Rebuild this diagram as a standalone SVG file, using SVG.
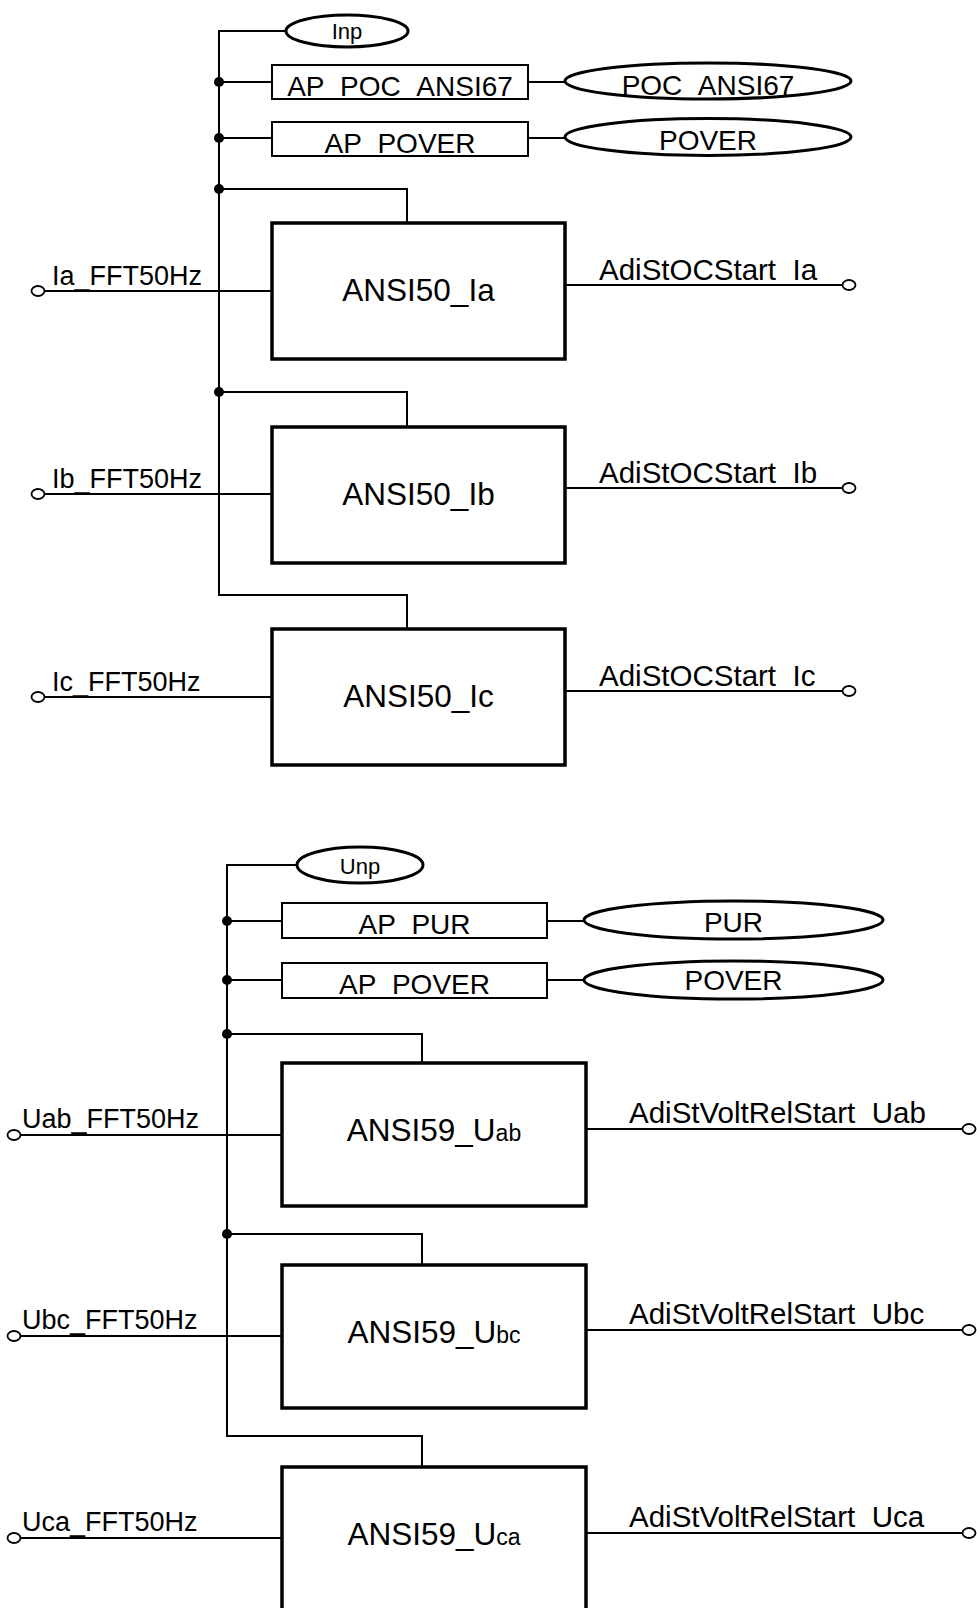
<svg xmlns="http://www.w3.org/2000/svg" width="977" height="1608" viewBox="0 0 977 1608">
<style>
.ln{stroke:#000;stroke-width:2;fill:none}
.box{fill:#fff;stroke:#000;stroke-width:3.5}
.ap{fill:#fff;stroke:#000;stroke-width:2}
.el{fill:#fff;stroke:#000;stroke-width:3}
.pin{fill:#fff;stroke:#000;stroke-width:1.8}
.dot{fill:#000}
text{font-family:"Liberation Sans",Arial,sans-serif;fill:#000}
.big{font-size:31.5px}
.lbl{font-size:27px}
.out{font-size:29.5px}
.mid{font-size:28px}
.sm{font-size:22px}
.c{text-anchor:middle}
</style>
<defs>
<clipPath id="cApPoc" clipPathUnits="userSpaceOnUse"><rect x="273" y="66" width="254" height="32"/></clipPath>
<clipPath id="cApPover1" clipPathUnits="userSpaceOnUse"><rect x="273" y="123" width="254" height="32"/></clipPath>
<clipPath id="cPoc" clipPathUnits="userSpaceOnUse"><rect x="560" y="60" width="300" height="35.5"/></clipPath>
<clipPath id="cPover1" clipPathUnits="userSpaceOnUse"><rect x="560" y="115" width="300" height="36"/></clipPath>
<clipPath id="cApPur" clipPathUnits="userSpaceOnUse"><rect x="283" y="904" width="263" height="32"/></clipPath>
<clipPath id="cApPover2" clipPathUnits="userSpaceOnUse"><rect x="283" y="964" width="263" height="32"/></clipPath>
<clipPath id="cOIa" clipPathUnits="userSpaceOnUse"><rect x="590" y="250" width="280" height="33"/></clipPath>
<clipPath id="cOIb" clipPathUnits="userSpaceOnUse"><rect x="590" y="453" width="280" height="33"/></clipPath>
<clipPath id="cOIc" clipPathUnits="userSpaceOnUse"><rect x="590" y="656" width="280" height="33"/></clipPath>
<clipPath id="cOUab" clipPathUnits="userSpaceOnUse"><rect x="620" y="1093" width="357" height="33"/></clipPath>
<clipPath id="cOUbc" clipPathUnits="userSpaceOnUse"><rect x="620" y="1294" width="357" height="33"/></clipPath>
<clipPath id="cOUca" clipPathUnits="userSpaceOnUse"><rect x="620" y="1497" width="357" height="33"/></clipPath>
</defs>

<g id="connectors">
<path class="ln" d="M286,31 H219 V595 H407 V629"/>
<path class="ln" d="M219,82 H272 M528,82 H565"/>
<path class="ln" d="M219,138 H272 M528,138 H565"/>
<path class="ln" d="M219,189 H407 V223"/>
<path class="ln" d="M219,392 H407 V427"/>
<path class="ln" d="M44,291 H272 M565,285 H843"/>
<path class="ln" d="M44,494 H272 M565,488 H843"/>
<path class="ln" d="M44,697 H272 M565,691 H843"/>
<circle class="dot" cx="219" cy="82" r="5"/>
<circle class="dot" cx="219" cy="138" r="5"/>
<circle class="dot" cx="219" cy="189" r="5"/>
<circle class="dot" cx="219" cy="392" r="5"/>

<path class="ln" d="M297,865 H227 V1436 H422 V1467"/>
<path class="ln" d="M227,921 H282 M547,921 H584"/>
<path class="ln" d="M227,980 H282 M547,980 H584"/>
<path class="ln" d="M227,1034 H422 V1063"/>
<path class="ln" d="M227,1234 H422 V1265"/>
<path class="ln" d="M20,1135 H282 M586,1129 H963"/>
<path class="ln" d="M20,1336 H282 M586,1330 H963"/>
<path class="ln" d="M20,1538 H282 M586,1533 H963"/>
<circle class="dot" cx="227" cy="921" r="5"/>
<circle class="dot" cx="227" cy="980" r="5"/>
<circle class="dot" cx="227" cy="1034" r="5"/>
<circle class="dot" cx="227" cy="1234" r="5"/>
</g>

<g id="Inp">
<ellipse class="el" cx="347" cy="31" rx="61" ry="16"/>
<text class="sm c" x="347" y="39">Inp</text>
</g>
<g id="AP_POC_ANSI67">
<rect class="ap" x="272" y="65" width="256" height="34"/>
<text class="mid c" x="400" y="96" clip-path="url(#cApPoc)">AP_POC_ANSI67</text>
</g>
<g id="POC_ANSI67">
<ellipse class="el" cx="708" cy="81" rx="143" ry="18"/>
<text class="mid c" x="708" y="95" clip-path="url(#cPoc)">POC_ANSI67</text>
</g>
<g id="AP_POVER_1">
<rect class="ap" x="272" y="122" width="256" height="34"/>
<text class="mid c" x="400" y="152.5" clip-path="url(#cApPover1)">AP_POVER</text>
</g>
<g id="POVER_1">
<ellipse class="el" cx="708" cy="137" rx="143" ry="18.5"/>
<text class="mid c" x="708" y="150" clip-path="url(#cPover1)">POVER</text>
</g>

<g id="ANSI50_Ia">
<rect class="box" x="272" y="223" width="293" height="136"/>
<text class="big c" x="418.5" y="301">ANSI50_Ia</text>
<ellipse class="pin" cx="38" cy="291" rx="6.5" ry="5"/>
<text class="lbl" x="52" y="285">Ia_FFT50Hz</text>
<ellipse class="pin" cx="849" cy="285" rx="6.5" ry="5"/>
<text class="out" x="599" y="280" clip-path="url(#cOIa)">AdiStOCStart_Ia</text>
</g>
<g id="ANSI50_Ib">
<rect class="box" x="272" y="427" width="293" height="136"/>
<text class="big c" x="418.5" y="505">ANSI50_Ib</text>
<ellipse class="pin" cx="38" cy="494" rx="6.5" ry="5"/>
<text class="lbl" x="52" y="488">Ib_FFT50Hz</text>
<ellipse class="pin" cx="849" cy="488" rx="6.5" ry="5"/>
<text class="out" x="599" y="483" clip-path="url(#cOIb)">AdiStOCStart_Ib</text>
</g>
<g id="ANSI50_Ic">
<rect class="box" x="272" y="629" width="293" height="136"/>
<text class="big c" x="418.5" y="707">ANSI50_Ic</text>
<ellipse class="pin" cx="38" cy="697" rx="6.5" ry="5"/>
<text class="lbl" x="52" y="691">Ic_FFT50Hz</text>
<ellipse class="pin" cx="849" cy="691" rx="6.5" ry="5"/>
<text class="out" x="599" y="686" clip-path="url(#cOIc)">AdiStOCStart_Ic</text>
</g>

<g id="Unp">
<ellipse class="el" cx="360" cy="865" rx="63" ry="18"/>
<text class="sm c" x="360" y="874">Unp</text>
</g>
<g id="AP_PUR">
<rect class="ap" x="282" y="903" width="265" height="35"/>
<text class="mid c" x="414.5" y="934" clip-path="url(#cApPur)">AP_PUR</text>
</g>
<g id="PUR">
<ellipse class="el" cx="733.5" cy="920" rx="149.5" ry="19"/>
<text class="mid c" x="733.5" y="932">PUR</text>
</g>
<g id="AP_POVER_2">
<rect class="ap" x="282" y="963" width="265" height="35"/>
<text class="mid c" x="414.5" y="993.5" clip-path="url(#cApPover2)">AP_POVER</text>
</g>
<g id="POVER_2">
<ellipse class="el" cx="733.5" cy="980" rx="149.5" ry="19"/>
<text class="mid c" x="733.5" y="990">POVER</text>
</g>

<g id="ANSI59_Uab">
<rect class="box" x="282" y="1063" width="304" height="143"/>
<text class="big c" x="434" y="1141">ANSI59_U<tspan font-size="23">ab</tspan></text>
<ellipse class="pin" cx="14" cy="1135" rx="6.5" ry="5"/>
<text class="lbl" x="22" y="1128">Uab_FFT50Hz</text>
<ellipse class="pin" cx="969" cy="1129" rx="6.5" ry="5"/>
<text class="out" x="629" y="1123" clip-path="url(#cOUab)">AdiStVoltRelStart_Uab</text>
</g>
<g id="ANSI59_Ubc">
<rect class="box" x="282" y="1265" width="304" height="143"/>
<text class="big c" x="434" y="1343">ANSI59_U<tspan font-size="23">bc</tspan></text>
<ellipse class="pin" cx="14" cy="1336" rx="6.5" ry="5"/>
<text class="lbl" x="22" y="1329">Ubc_FFT50Hz</text>
<ellipse class="pin" cx="969" cy="1330" rx="6.5" ry="5"/>
<text class="out" x="629" y="1324" clip-path="url(#cOUbc)">AdiStVoltRelStart_Ubc</text>
</g>
<g id="ANSI59_Uca">
<rect class="box" x="282" y="1467" width="304" height="143"/>
<text class="big c" x="434" y="1545">ANSI59_U<tspan font-size="23">ca</tspan></text>
<ellipse class="pin" cx="14" cy="1538" rx="6.5" ry="5"/>
<text class="lbl" x="22" y="1531">Uca_FFT50Hz</text>
<ellipse class="pin" cx="969" cy="1533" rx="6.5" ry="5"/>
<text class="out" x="629" y="1527" clip-path="url(#cOUca)">AdiStVoltRelStart_Uca</text>
</g>
</svg>
